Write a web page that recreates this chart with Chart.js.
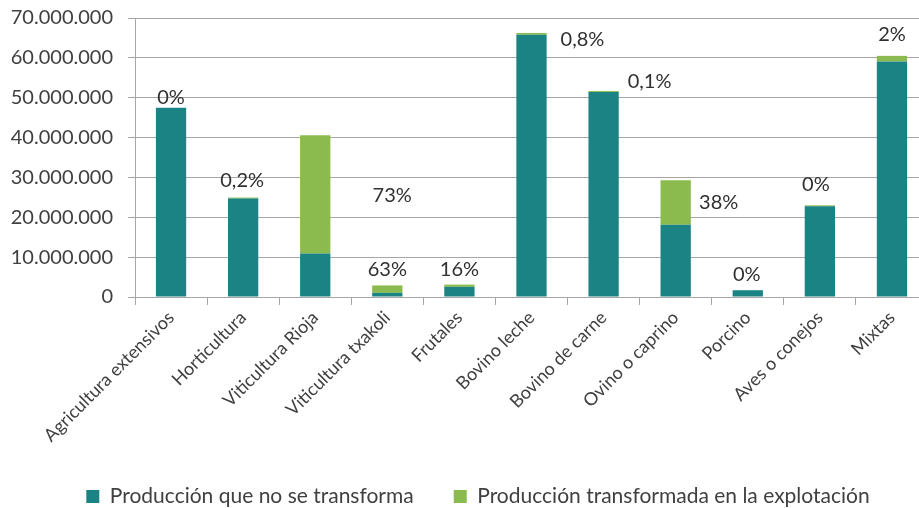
<!DOCTYPE html>
<html>
<head>
<meta charset="utf-8">
<script src="https://cdn.jsdelivr.net/npm/chart.js@4/dist/chart.umd.min.js"></script>
<style>
html,body{margin:0;padding:0;background:#fff;overflow:hidden;}
#wrap{position:relative;width:957px;height:508px;}
canvas{display:block;}
</style>
</head>
<body>
<div id="wrap"><canvas id="c" width="957" height="508"></canvas></div>
<script>
const categories = ["Agricultura extensivos","Horticultura","Viticultura Rioja","Viticultura txakoli","Frutales","Bovino leche","Bovino de carne","Ovino o caprino","Porcino","Aves o conejos","Mixtas"];
const noTransformada = [47500000,24700000,10900000,1050000,2550000,65800000,51450000,18100000,1700000,22750000,59100000];
const transformada = [0,250000,29700000,1850000,550000,450000,250000,11200000,0,250000,1400000];
const pctLabels = ["0%","0,2%","73%","63%","16%","0,8%","0,1%","38%","0%","0%","2%"];
const seriesNames = ["Producción que no se transforma","Producción transformada en la explotación"];

// label placement style (pixel offsets from the top-centre of each stacked bar)
const labelOffsets = [[0,-10],[-1,-17],[77,60],[0,-16],[0,-15],[51,7],[46,-9],[43,22],[-1,-16],[-4,-21],[0,-21]];

const FONT = "Lato, 'Open Sans', sans-serif";
const TEXT = '#404040';

const pctPlugin = {
  id:'pct',
  afterLayout(chart){
    if (chart.legend) { chart.legend.left += 14; chart.legend.right += 14; }
  },
  afterDatasetsDraw(chart){
    const ctx = chart.ctx;
    const meta = chart.getDatasetMeta(1);
    ctx.save();
    ctx.font = "20px " + FONT;
    ctx.fillStyle = '#303030';
    ctx.textAlign='center';
    ctx.textBaseline='middle';
    meta.data.forEach((el,i)=>{
      const o = labelOffsets[i];
      ctx.fillText(pctLabels[i], el.x + o[0], el.y + o[1]);
    });
    ctx.restore();
  }
};

new Chart(document.getElementById('c'),{
  type:'bar',
  data:{
    labels:categories,
    datasets:[
      {label:seriesNames[0],data:noTransformada,backgroundColor:'#1b8384',stack:'s',barPercentage:0.84,categoryPercentage:0.5},
      {label:seriesNames[1],data:transformada,backgroundColor:'#8bbb4e',stack:'s',barPercentage:0.84,categoryPercentage:0.5}
    ]
  },
  options:{
    responsive:false,
    animation:false,
    devicePixelRatio:1,
    layout:{padding:{top:18,right:29,left:0,bottom:-9}},
    plugins:{
      legend:{
        position:'bottom',
        labels:{
          font:{family:FONT,size:21},
          color:TEXT,
          boxWidth:13,boxHeight:13,
          padding:40
        }
      },
      tooltip:{enabled:false}
    },
    scales:{
      x:{
        stacked:true,
        grid:{display:true,drawOnChartArea:false,drawTicks:true,tickLength:8,color:'#a6a6a6',offset:true},
        border:{display:true,color:'#a6a6a6'},
        ticks:{font:{family:FONT,size:18},color:TEXT,maxRotation:45,minRotation:45,padding:2},
        afterFit(s){ s.height = 149; s.paddingLeft = 0; s.paddingRight = 0; }
      },
      y:{
        stacked:true,
        min:0,max:70000000,
        grid:{color:'#a6a6a6',tickLength:7},
        border:{display:true,color:'#a6a6a6'},
        ticks:{
          stepSize:10000000,
          font:{family:FONT,size:20},color:TEXT,padding:15,
          callback:(v)=> v===0 ? '0' : v.toLocaleString('de-DE')
        },
        afterFit(s){ s.width = 135; s.paddingTop = 0; s.paddingBottom = 0; }
      }
    }
  },
  plugins:[pctPlugin]
});
</script>
</body>
</html>
